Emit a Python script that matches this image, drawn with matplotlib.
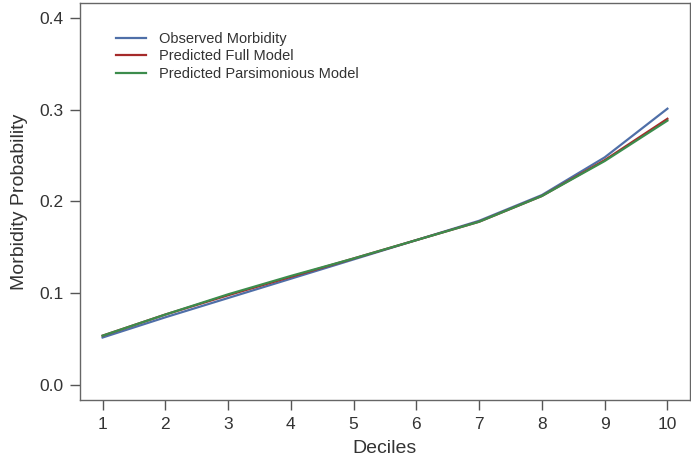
import matplotlib
matplotlib.use("Agg")
import matplotlib.pyplot as plt

plt.rcParams["font.family"] = ["Liberation Sans", "DejaVu Sans"]

deciles = [1, 2, 3, 4, 5, 6, 7, 8, 9, 10]
observed = [0.052, 0.074, 0.095, 0.116, 0.137, 0.158, 0.179, 0.207, 0.248, 0.301]
full_model = [0.054, 0.077, 0.098, 0.118, 0.138, 0.158, 0.178, 0.206, 0.245, 0.290]
parsimonious = [0.054, 0.077, 0.099, 0.119, 0.138, 0.158, 0.178, 0.206, 0.244, 0.288]
y_ticks = [0.0, 0.1, 0.2, 0.3, 0.4]

fig = plt.figure(figsize=(6.91, 4.63), dpi=100)
ax = fig.add_axes([80/691, 63/463, 610/691, 397/463])

ax.plot(deciles, observed, color="#4f6fa8", lw=1.6, label="Observed Morbidity")
ax.plot(deciles, full_model, color="#a52a2a", lw=1.6, label="Predicted Full Model")
ax.plot(deciles, parsimonious, color="#3c8c4c", lw=1.6, label="Predicted Parsimonious Model")

ax.set_xlim(1 - 0.36, 10 + 0.36)
ax.set_ylim(-0.016, 0.416)
ax.set_xticks(deciles)
ax.set_yticks(y_ticks)
ax.set_yticklabels([f"{v:.1f}" for v in y_ticks])
ax.tick_params(direction="out", length=7, width=1, colors="#555555", labelcolor="#333333",
               labelsize=12.5, pad=5)
for s in ax.spines.values():
    s.set_color("#666666")
    s.set_linewidth(1)
ax.set_xlabel("Deciles", fontsize=14, color="#333333", labelpad=6)
ax.set_ylabel("Morbidity Probability", fontsize=14, color="#333333", labelpad=8)

leg = ax.legend(loc="upper left", bbox_to_anchor=(0.038, 0.96), frameon=False, fontsize=10.5,
                handlelength=2.05, handletextpad=0.9, labelspacing=0.23)
for t in leg.get_texts():
    t.set_color("#333333")

fig.savefig("out.png", dpi=100)
